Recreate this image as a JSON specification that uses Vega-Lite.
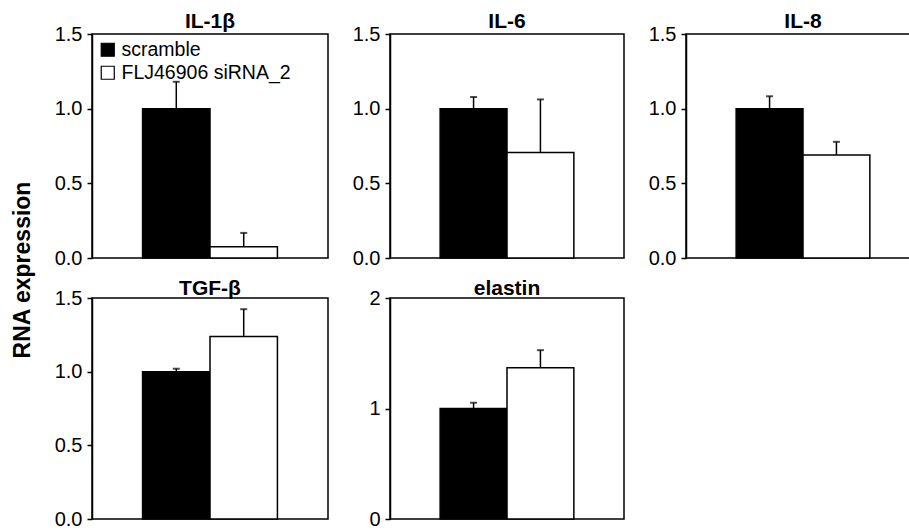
{
  "$schema": "https://vega.github.io/schema/vega-lite/v6.json",
  "background": "white",
  "padding": {"left": 12, "top": 10, "right": 0, "bottom": 0},
  "config": {
    "font": "Liberation Sans",
    "view": {"stroke": "black", "strokeWidth": 1.5},
    "axis": {"domainColor": "black", "tickColor": "black", "labelColor": "black", "labelFontSize": 20, "grid": false, "domainWidth": 1.5, "tickWidth": 1.5, "tickSize": 5, "labelPadding": 5, "title": null, "labelOverlap": false},
    "title": {"fontSize": 21, "fontWeight": "bold", "color": "black", "offset": -8, "anchor": "middle"}
  },
  "title": {"text": "RNA expression", "orient": "left", "anchor": "middle", "fontSize": 23, "fontWeight": "bold", "offset": 18},
  "datasets": {
    "rna": [
      {"gene": "IL-1β", "group": "scramble", "value": 1.0, "upper": 1.18},
      {"gene": "IL-1β", "group": "FLJ46906 siRNA_2", "value": 0.075, "upper": 0.168},
      {"gene": "IL-6", "group": "scramble", "value": 1.0, "upper": 1.078},
      {"gene": "IL-6", "group": "FLJ46906 siRNA_2", "value": 0.707, "upper": 1.062},
      {"gene": "IL-8", "group": "scramble", "value": 1.0, "upper": 1.083},
      {"gene": "IL-8", "group": "FLJ46906 siRNA_2", "value": 0.689, "upper": 0.778},
      {"gene": "TGF-β", "group": "scramble", "value": 1.0, "upper": 1.02},
      {"gene": "TGF-β", "group": "FLJ46906 siRNA_2", "value": 1.239, "upper": 1.424},
      {"gene": "elastin", "group": "scramble", "value": 1.0, "upper": 1.052},
      {"gene": "elastin", "group": "FLJ46906 siRNA_2", "value": 1.368, "upper": 1.528}
    ]
  },
  "data": {"name": "rna"},
  "columns": 3,
  "spacing": {"row": 8, "column": 22},
  "resolve": {"scale": {"fill": "independent", "y": "independent", "x": "independent"}, "legend": {"fill": "independent"}},
  "concat": [
    {
      "width": 236, "height": 224,
      "title": {"text": "IL-1β"},
      "transform": [{"filter": "datum.gene === 'IL-1β'"}],
      "encoding": {"x": {"field": "group", "type": "nominal", "sort": ["scramble", "FLJ46906 siRNA_2"], "scale": {"paddingInner": 0, "paddingOuter": 0.75}, "axis": null}},
      "layer": [
        {"mark": {"type": "bar", "stroke": "black", "strokeWidth": 1.5},
         "encoding": {
           "y": {"field": "value", "type": "quantitative", "scale": {"domain": [0, 1.5], "nice": false}, "axis": {"values": [0, 0.5, 1, 1.5], "format": ".1f"}},
           "fill": {"field": "group", "type": "nominal", "sort": ["scramble", "FLJ46906 siRNA_2"], "scale": {"domain": ["scramble", "FLJ46906 siRNA_2"], "range": ["black", "white"]},
                    "legend": {"orient": "top-left", "title": null, "symbolType": "square", "symbolSize": 170, "symbolStrokeColor": "black", "symbolStrokeWidth": 1.2, "labelFontSize": 19.5, "labelColor": "black", "labelLimit": 400, "offset": 6, "rowPadding": 2, "labelOffset": 4, "padding": 0}}
         }},
        {"mark": {"type": "rule", "color": "black", "strokeWidth": 1.5}, "encoding": {"y": {"field": "value", "type": "quantitative", "axis": {"values": [0, 0.5, 1, 1.5], "format": ".1f"}}, "y2": {"field": "upper"}}},
        {"mark": {"type": "tick", "color": "black", "thickness": 2, "size": 7}, "encoding": {"y": {"field": "upper", "type": "quantitative", "axis": {"values": [0, 0.5, 1, 1.5], "format": ".1f"}}}}
      ]
    },
    {
      "width": 234, "height": 224,
      "title": {"text": "IL-6"},
      "transform": [{"filter": "datum.gene === 'IL-6'"}],
      "encoding": {"x": {"field": "group", "type": "nominal", "sort": ["scramble", "FLJ46906 siRNA_2"], "scale": {"paddingInner": 0, "paddingOuter": 0.75}, "axis": null}},
      "layer": [
        {"mark": {"type": "bar", "stroke": "black", "strokeWidth": 1.5},
         "encoding": {
           "y": {"field": "value", "type": "quantitative", "scale": {"domain": [0, 1.5], "nice": false}, "axis": {"values": [0, 0.5, 1, 1.5], "format": ".1f"}},
           "fill": {"field": "group", "type": "nominal", "sort": ["scramble", "FLJ46906 siRNA_2"], "scale": {"domain": ["scramble", "FLJ46906 siRNA_2"], "range": ["black", "white"]}, "legend": null}
         }},
        {"mark": {"type": "rule", "color": "black", "strokeWidth": 1.5}, "encoding": {"y": {"field": "value", "type": "quantitative", "axis": {"values": [0, 0.5, 1, 1.5], "format": ".1f"}}, "y2": {"field": "upper"}}},
        {"mark": {"type": "tick", "color": "black", "thickness": 2, "size": 7}, "encoding": {"y": {"field": "upper", "type": "quantitative", "axis": {"values": [0, 0.5, 1, 1.5], "format": ".1f"}}}}
      ]
    },
    {
      "width": 234, "height": 224,
      "title": {"text": "IL-8"},
      "transform": [{"filter": "datum.gene === 'IL-8'"}],
      "encoding": {"x": {"field": "group", "type": "nominal", "sort": ["scramble", "FLJ46906 siRNA_2"], "scale": {"paddingInner": 0, "paddingOuter": 0.75}, "axis": null}},
      "layer": [
        {"mark": {"type": "bar", "stroke": "black", "strokeWidth": 1.5},
         "encoding": {
           "y": {"field": "value", "type": "quantitative", "scale": {"domain": [0, 1.5], "nice": false}, "axis": {"values": [0, 0.5, 1, 1.5], "format": ".1f"}},
           "fill": {"field": "group", "type": "nominal", "sort": ["scramble", "FLJ46906 siRNA_2"], "scale": {"domain": ["scramble", "FLJ46906 siRNA_2"], "range": ["black", "white"]}, "legend": null}
         }},
        {"mark": {"type": "rule", "color": "black", "strokeWidth": 1.5}, "encoding": {"y": {"field": "value", "type": "quantitative", "axis": {"values": [0, 0.5, 1, 1.5], "format": ".1f"}}, "y2": {"field": "upper"}}},
        {"mark": {"type": "tick", "color": "black", "thickness": 2, "size": 7}, "encoding": {"y": {"field": "upper", "type": "quantitative", "axis": {"values": [0, 0.5, 1, 1.5], "format": ".1f"}}}}
      ]
    },
    {
      "width": 236, "height": 221,
      "title": {"text": "TGF-β", "offset": -11},
      "transform": [{"filter": "datum.gene === 'TGF-β'"}],
      "encoding": {"x": {"field": "group", "type": "nominal", "sort": ["scramble", "FLJ46906 siRNA_2"], "scale": {"paddingInner": 0, "paddingOuter": 0.75}, "axis": null}},
      "layer": [
        {"mark": {"type": "bar", "stroke": "black", "strokeWidth": 1.5},
         "encoding": {
           "y": {"field": "value", "type": "quantitative", "scale": {"domain": [0, 1.5], "nice": false}, "axis": {"values": [0, 0.5, 1, 1.5], "format": ".1f"}},
           "fill": {"field": "group", "type": "nominal", "sort": ["scramble", "FLJ46906 siRNA_2"], "scale": {"domain": ["scramble", "FLJ46906 siRNA_2"], "range": ["black", "white"]}, "legend": null}
         }},
        {"mark": {"type": "rule", "color": "black", "strokeWidth": 1.5}, "encoding": {"y": {"field": "value", "type": "quantitative", "axis": {"values": [0, 0.5, 1, 1.5], "format": ".1f"}}, "y2": {"field": "upper"}}},
        {"mark": {"type": "tick", "color": "black", "thickness": 2, "size": 7}, "encoding": {"y": {"field": "upper", "type": "quantitative", "axis": {"values": [0, 0.5, 1, 1.5], "format": ".1f"}}}}
      ]
    },
    {
      "width": 234, "height": 221,
      "title": {"text": "elastin", "offset": -11},
      "transform": [{"filter": "datum.gene === 'elastin'"}],
      "encoding": {"x": {"field": "group", "type": "nominal", "sort": ["scramble", "FLJ46906 siRNA_2"], "scale": {"paddingInner": 0, "paddingOuter": 0.75}, "axis": null}},
      "layer": [
        {"mark": {"type": "bar", "stroke": "black", "strokeWidth": 1.5},
         "encoding": {
           "y": {"field": "value", "type": "quantitative", "scale": {"domain": [0, 2], "nice": false}, "axis": {"values": [0, 1, 2], "format": ".0f"}},
           "fill": {"field": "group", "type": "nominal", "sort": ["scramble", "FLJ46906 siRNA_2"], "scale": {"domain": ["scramble", "FLJ46906 siRNA_2"], "range": ["black", "white"]}, "legend": null}
         }},
        {"mark": {"type": "rule", "color": "black", "strokeWidth": 1.5}, "encoding": {"y": {"field": "value", "type": "quantitative", "axis": {"values": [0, 1, 2], "format": ".0f"}}, "y2": {"field": "upper"}}},
        {"mark": {"type": "tick", "color": "black", "thickness": 2, "size": 7}, "encoding": {"y": {"field": "upper", "type": "quantitative", "axis": {"values": [0, 1, 2], "format": ".0f"}}}}
      ]
    }
  ]
}
